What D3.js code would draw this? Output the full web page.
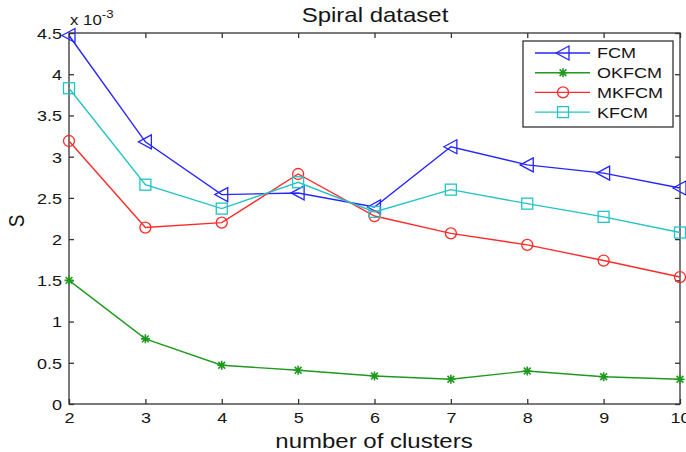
<!DOCTYPE html>
<html>
<head>
<meta charset="utf-8">
<script src="https://cdn.jsdelivr.net/npm/d3@7"></script>
<style>
  html, body { margin: 0; padding: 0; background: #fff; }
  svg { display: block; font-family: "Liberation Sans", Arial, sans-serif; }
</style>
</head>
<body>
<svg id="chart" width="686" height="452"></svg>
<script>
// Cluster counts on the x axis
const clusters = [2, 3, 4, 5, 6, 7, 8, 9, 10];
// S index per method, in units of 1e-3
const fcm   = [4.47, 3.18, 2.54, 2.56, 2.39, 3.12, 2.90, 2.80, 2.62];
const okfcm = [1.50, 0.79, 0.47, 0.41, 0.34, 0.30, 0.40, 0.33, 0.30];
const mkfcm = [3.19, 2.14, 2.20, 2.79, 2.28, 2.07, 1.93, 1.74, 1.54];
const kfcm  = [3.83, 2.66, 2.37, 2.69, 2.33, 2.60, 2.43, 2.27, 2.08];
const seriesNames = ["FCM", "OKFCM", "MKFCM", "KFCM"];
const yTicks = [0, 0.5, 1, 1.5, 2, 2.5, 3, 3.5, 4, 4.5];
const xTicks = [2, 3, 4, 5, 6, 7, 8, 9, 10];

const series = [
  { name: seriesNames[0], values: fcm,   color: "#2626ff", marker: "tri" },
  { name: seriesNames[1], values: okfcm, color: "#1f9a1f", marker: "star" },
  { name: seriesNames[2], values: mkfcm, color: "#ff2a2a", marker: "circle" },
  { name: seriesNames[3], values: kfcm,  color: "#22c4c4", marker: "square" }
];

const svg = d3.select("#chart");
const m = { left: 69, right: 680, top: 33, bottom: 404 };
const x = d3.scaleLinear().domain([2, 10]).range([m.left, m.right]);
const y = d3.scaleLinear().domain([0, 4.5]).range([m.bottom, m.top]);
const axisColor = "#333";
const textColor = "#151515";
const tickLen = 5;
const wide = 1.2; // horizontal stretch of the lettering

// Places a text at (tx, ty) with the wide lettering
function place(sel, tx, ty, extra) {
  return sel.attr("x", null).attr("y", null)
    .attr("transform", `translate(${tx},${ty}) scale(${wide},1)` + (extra || ""));
}

// Frame box
svg.append("rect")
  .attr("x", m.left).attr("y", m.top)
  .attr("width", m.right - m.left).attr("height", m.bottom - m.top)
  .attr("fill", "none").attr("stroke", axisColor).attr("stroke-width", 1.3);

// Bottom axis (ticks pointing inward) plus mirrored top ticks
const xAxis = d3.axisBottom(x).tickValues(xTicks).tickSize(-tickLen).tickFormat(d3.format("d"));
const gx = svg.append("g").attr("transform", `translate(0,${m.bottom})`).call(xAxis);
const xTop = d3.axisTop(x).tickValues(xTicks).tickSize(-tickLen).tickFormat("");
const gxt = svg.append("g").attr("transform", `translate(0,${m.top})`).call(xTop);

// Left axis (ticks inward) plus mirrored right ticks
const yAxis = d3.axisLeft(y).tickValues(yTicks).tickSize(-tickLen).tickFormat(d3.format("~g"));
const gy = svg.append("g").attr("transform", `translate(${m.left},0)`).call(yAxis);
const yRight = d3.axisRight(y).tickValues(yTicks).tickSize(-tickLen).tickFormat("");
const gyr = svg.append("g").attr("transform", `translate(${m.right},0)`).call(yRight);

[gx, gxt, gy, gyr].forEach(g => {
  g.select(".domain").remove();
  g.selectAll(".tick line").attr("stroke", axisColor).attr("stroke-width", 1.3);
  g.selectAll(".tick text").attr("fill", textColor).style("font-size", "15px").attr("font-family", null);
});
gx.selectAll(".tick text").attr("dy", null).each(function () { place(d3.select(this), 0, 19); });
gy.selectAll(".tick text").attr("dy", "0.36em").each(function () { place(d3.select(this), -7, 0); });

// Exponent multiplier above the y axis
const expo = place(svg.append("text"), 70, 25).attr("fill", textColor).style("font-size", "14px");
expo.append("tspan").text("x 10");
expo.append("tspan").attr("dy", -7).style("font-size", "11px").text("-3");

// Title and axis labels
place(svg.append("text"), 375, 22).attr("text-anchor", "middle")
  .attr("fill", textColor).style("font-size", "20px").text("Spiral dataset");
place(svg.append("text"), 374, 448).attr("text-anchor", "middle")
  .attr("fill", textColor).style("font-size", "20px").text("number of clusters");
svg.append("text").attr("transform", `translate(24,221) scale(${wide},1) rotate(-90)`)
  .attr("text-anchor", "middle")
  .attr("fill", textColor).style("font-size", "19px").text("S");

// Marker drawing
function drawMarker(g, type, cx, cy, color) {
  if (type === "tri") {
    g.append("path")
      .attr("d", `M${cx - 7},${cy} L${cx + 6},${cy - 7} L${cx + 6},${cy + 7} Z`)
      .attr("fill", "none").attr("stroke", color).attr("stroke-width", 1.3);
  } else if (type === "circle") {
    g.append("circle").attr("cx", cx).attr("cy", cy).attr("r", 5.5)
      .attr("fill", "none").attr("stroke", color).attr("stroke-width", 1.3);
  } else if (type === "square") {
    g.append("rect").attr("x", cx - 5.5).attr("y", cy - 5.5).attr("width", 11).attr("height", 11)
      .attr("fill", "none").attr("stroke", color).attr("stroke-width", 1.3);
  } else if (type === "star") {
    const r = 4.5;
    const d = [
      `M${cx - r},${cy} L${cx + r},${cy}`,
      `M${cx},${cy - r} L${cx},${cy + r}`,
      `M${cx - r * 0.75},${cy - r * 0.75} L${cx + r * 0.75},${cy + r * 0.75}`,
      `M${cx - r * 0.75},${cy + r * 0.75} L${cx + r * 0.75},${cy - r * 0.75}`
    ].join(" ");
    g.append("path").attr("d", d).attr("stroke", color).attr("stroke-width", 1.6).attr("fill", "none");
  }
}

const line = d3.line().x((d, i) => x(clusters[i])).y(d => y(d));
series.forEach(s => {
  const g = svg.append("g");
  g.append("path").datum(s.values).attr("d", line)
    .attr("fill", "none").attr("stroke", s.color).attr("stroke-width", 1.4);
  s.values.forEach((v, i) => drawMarker(g, s.marker, x(clusters[i]), y(v), s.color));
});

// Legend
const lg = svg.append("g");
lg.append("rect").attr("x", 523).attr("y", 41).attr("width", 150).attr("height", 86)
  .attr("fill", "#fff").attr("stroke", axisColor).attr("stroke-width", 1.3);
series.forEach((s, i) => {
  const ly = 53 + i * 19.7;
  lg.append("line").attr("x1", 535).attr("x2", 590).attr("y1", ly).attr("y2", ly)
    .attr("stroke", s.color).attr("stroke-width", 1.4);
  drawMarker(lg, s.marker, 563, ly, s.color);
  place(lg.append("text"), 597, ly).attr("dy", "0.36em")
    .attr("fill", textColor).style("font-size", "15px").text(s.name);
});
</script>
</body>
</html>
